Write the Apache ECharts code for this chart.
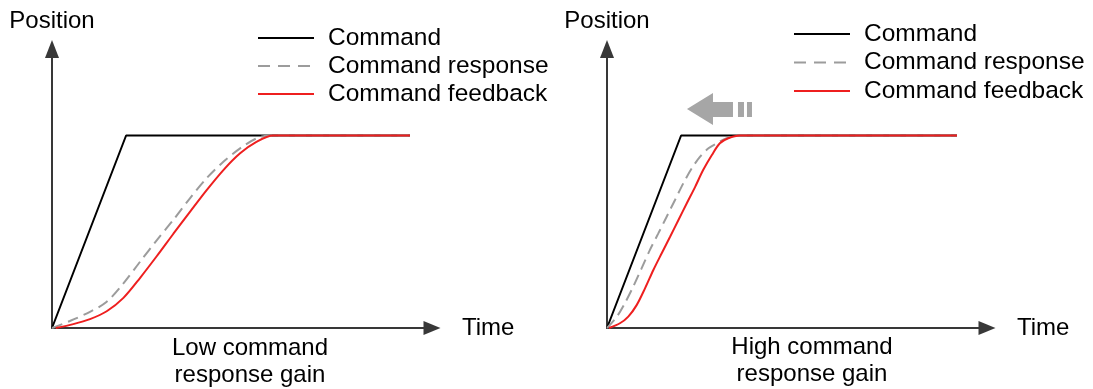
<!DOCTYPE html>
<html>
<head>
<meta charset="utf-8">
<script src="https://cdn.jsdelivr.net/npm/echarts@6/dist/echarts.min.js"></script>
<style>
html, body { margin: 0; padding: 0; background: #fff; }
#main { width: 1093px; height: 389px; }
</style>
</head>
<body>
<div id="main"></div>
<script>
// time / position pairs (arbitrary units, axes 0..100)
var leftCommand = [[0, 0], [19.5, 69], [94.2, 69]];
var leftResponse = [[0, 0], [4.7, 2.5], [10.0, 5.8], [14.4, 9.4], [18.8, 16.0], [23.2, 23.8], [27.6, 31.5], [31.9, 38.7], [36.3, 46.5], [40.7, 53.7], [45.1, 59.6], [49.5, 64.4], [53.9, 68.0], [57.4, 69], [94.2, 69]];
var leftFeedback = [[1, 0], [5.6, 1.4], [10.0, 3.2], [14.4, 6.0], [18.8, 10.8], [23.2, 18.0], [27.6, 25.8], [31.9, 33.7], [36.3, 41.6], [40.7, 49.4], [45.1, 56.6], [49.5, 62.6], [53.9, 66.8], [58.2, 69], [94.2, 69]];

var rightCommand = [[0, 0], [19.5, 69], [92.1, 69]];
var rightResponse = [[0, 0], [2.6, 4.1], [4.7, 8.9], [6.9, 14.8], [9.1, 21.4], [11.3, 28.0], [13.5, 33.9], [15.7, 39.9], [17.9, 45.9], [20.1, 51.9], [22.3, 57.2], [24.5, 61.4], [26.7, 64.4], [28.9, 66.2], [31.5, 68.0], [35.0, 69], [92.1, 69]];
var rightFeedback = [[0.5, 0], [3.4, 1.7], [5.6, 4.1], [7.8, 8.2], [10.0, 14.2], [12.2, 20.8], [14.4, 26.8], [16.6, 32.7], [18.8, 38.7], [21.0, 44.7], [23.2, 50.6], [25.3, 56.6], [27.6, 62.0], [29.7, 66.2], [31.9, 68.0], [35.0, 69], [92.1, 69]];

var seriesNames = ['Command', 'Command response', 'Command feedback'];
var captions = ['Low command\nresponse gain', 'High command\nresponse gain'];
var shiftArrowAt = [29.6, 78.5];

var FONT = 'Liberation Sans, Arial, sans-serif';

function makeXAxis(idx) {
    return {
        type: 'value', gridIndex: idx, min: 0, max: 100,
        name: 'Time', nameLocation: 'end', nameGap: 30,
        nameTextStyle: { fontSize: 24, color: '#000', fontFamily: FONT, verticalAlign: 'middle' },
        axisLine: {
            show: true, onZero: false,
            symbol: ['none', 'triangle'], symbolSize: [14, 17],
            lineStyle: { color: '#383838', width: 2 }
        },
        axisTick: { show: false },
        axisLabel: { show: false },
        splitLine: { show: false }
    };
}

function makeYAxis(idx) {
    return {
        type: 'value', gridIndex: idx, min: 0, max: 100,
        name: 'Position', nameLocation: 'end', nameGap: 16,
        nameTextStyle: { fontSize: 24, color: '#000', fontFamily: FONT },
        axisLine: {
            show: true, onZero: false,
            symbol: ['none', 'triangle'], symbolSize: [14, 18],
            lineStyle: { color: '#383838', width: 2 }
        },
        axisTick: { show: false },
        axisLabel: { show: false },
        splitLine: { show: false }
    };
}

function makeLegend(left, top, gap) {
    return {
        orient: 'vertical', left: left, top: top, padding: 0,
        itemWidth: 56, itemHeight: 14, itemGap: gap,
        selectedMode: false,
        data: [
            { name: seriesNames[0] },
            { name: seriesNames[1], lineStyle: { type: [12, 8] } },
            { name: seriesNames[2] }
        ],
        itemStyle: { opacity: 0 },
        textStyle: { fontSize: 24.5, color: '#000', fontFamily: FONT, lineHeight: 26, padding: [0, 0, 0, 9] }
    };
}

function lineSeries(name, idx, data, color, type, smooth) {
    return {
        name: name, type: 'line', xAxisIndex: idx, yAxisIndex: idx,
        data: data, symbol: 'none', smooth: smooth,
        lineStyle: { color: color, width: 2, type: type },
        itemStyle: { color: color },
        animation: false
    };
}

var myChart = echarts.init(document.getElementById('main'));

var series = [
    lineSeries(seriesNames[0], 0, leftCommand, '#000000', 'solid', false),
    lineSeries(seriesNames[1], 0, leftResponse, '#9c9c9c', [11, 6], 0.3),
    lineSeries(seriesNames[2], 0, leftFeedback, '#ee1f1f', 'solid', 0.3),
    lineSeries(seriesNames[0], 1, rightCommand, '#000000', 'solid', false),
    lineSeries(seriesNames[1], 1, rightResponse, '#9c9c9c', [11, 6], 0.3),
    lineSeries(seriesNames[2], 1, rightFeedback, '#ee1f1f', 'solid', 0.3)
];

// the grey "shift left" arrow of the right panel
series[3].markPoint = {
    silent: true,
    label: { show: false },
    data: [{
        coord: shiftArrowAt,
        symbol: 'path://M0 16 L26 0 L26 9 L46 9 L46 24 L26 24 L26 32 Z M51 9 L57 9 L57 24 L51 24 Z M60 9 L65 9 L65 24 L60 24 Z',
        symbolSize: [65, 32],
        itemStyle: { color: '#a6a6a6', opacity: 1 }
    }]
};

var option = {
    backgroundColor: '#fff',
    animation: false,
    grid: [
        { left: 52, top: 49, width: 380, height: 279 },
        { left: 607, top: 49, width: 380, height: 279 }
    ],
    xAxis: [makeXAxis(0), makeXAxis(1)],
    yAxis: [makeYAxis(0), makeYAxis(1)],
    legend: [makeLegend(257, 25, 2), makeLegend(793, 21, 2.5)],
    graphic: [
        {
            type: 'text', x: 250, y: 335,
            style: { text: captions[0], fill: '#000', fontSize: 24, fontFamily: FONT, lineHeight: 27, align: 'center', verticalAlign: 'top' }
        },
        {
            type: 'text', x: 812, y: 334,
            style: { text: captions[1], fill: '#000', fontSize: 24, fontFamily: FONT, lineHeight: 27, align: 'center', verticalAlign: 'top' }
        }
    ],
    series: series
};

myChart.setOption(option);
</script>
</body>
</html>
